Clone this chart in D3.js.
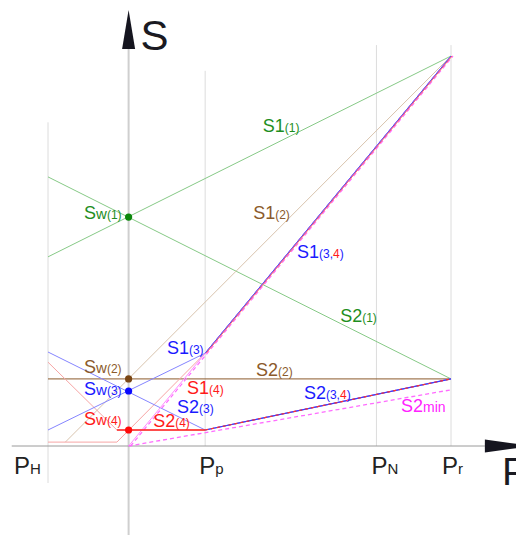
<!DOCTYPE html>
<html>
<head>
<meta charset="utf-8">
<script src="https://cdn.jsdelivr.net/npm/d3@7/dist/d3.min.js"></script>
<style>
body { margin: 0; background: #fff; }
svg { display: block; font-family: "Liberation Sans", Arial, sans-serif; }
</style>
</head>
<body>
<svg id="chart" width="516" height="535"></svg>
<script>
// P positions (0 = P_H, 100 = P_r), S values (0 = P axis, 100 = top point)
var pSubs = ["H", "p", "N", "r"];
var pValues = [0, 39, 81.5, 100];
var gridTop = [83, 96.2, 102.8, 102.8];
var gridBottom = [-9.5, 0, 0, 0];
var sAxisP = 20;

// lines, as [P, S]
var s1_1 = [[0, 48.5], [100, 100]];
var s2_1 = [[0, 69], [100, 17.2]];
var s1_2 = [[4.3, 1], [100, 100]];
var s2_2 = [[0, 17.2], [100, 17.2]];
var s1_3 = [[0, 4.1], [39, 23.8], [100, 100]];
var s2_3 = [[0, 24.1], [39, 4.1], [100, 17.2]];
var s1_4 = [[0, 1], [17.1, 1], [39, 23.8], [100, 100]];
var s2_4 = [[0, 21.5], [17.1, 4.1], [39, 4.1], [100, 17.2]];
var s1_min = [[20, 0], [100, 100]];
var s2_min = [[20, 0], [100, 14.4]];

// working points Sw on the S axis
var swNames = ["(1)", "(2)", "(3)", "(4)"];
var swValues = [58.7, 17.2, 14.1, 4.1];

// line labels: text, sub text, group
var labelMain = ["S1", "S1", "S1", "S2", "S2", "S2", "S2", "S1", "S1", "S2", "S2"];
var labelSub = ["(1)", "(2)", "(3,4)", "(1)", "(2)", "(3,4)", "min", "(3)", "(4)", "(3)", "(4)"];
var labelGroup = ["g", "b", "u", "g", "b", "u", "m", "u", "r", "u", "r"];
var labelAt = [[53.3, 80.5], [50.9, 58.2], [61.8, 48.2], [72.5, 31.8], [51.6, 17.9],
               [63.5, 12.1], [87.6, 8.7], [29.5, 23.6], [34.5, 13.3], [32.0, 8.5], [26.1, 4.9]];

var colors = {
    g: {line: "#86c986", text: "#1e8e1e", dot: "#0b870b"},
    b: {line: "#8b5a2b", text: "#8b5a2b", dot: "#7a4614"},
    u: {line: "#8585ff", text: "#1a1aff", dot: "#0a0aff"},
    r: {line: "#f7a5a5", text: "#ff1a1a", dot: "#ff0a0a"},
    m: {line: "#ff6cff", text: "#ff22ff"}
};
var swGroup = ["g", "b", "u", "r"];

var svg = d3.select("#chart");
var x = d3.scaleLinear().domain([0, 100]).range([48, 451]);
var y = d3.scaleLinear().domain([0, 100]).range([446, 56]);
var line = d3.line().x(d => x(d[0])).y(d => y(d[1]));

function draw(points, stroke, width, dash, dx) {
    svg.append("path")
        .datum(points)
        .attr("d", line)
        .attr("fill", "none")
        .attr("stroke", stroke)
        .attr("stroke-width", width)
        .attr("stroke-dasharray", dash || null)
        .attr("transform", dx ? "translate(" + dx + ",0)" : null);
}

// grid lines
svg.selectAll(".grid")
    .data(pValues)
    .enter().append("line")
    .attr("class", "grid")
    .attr("x1", d => x(d)).attr("x2", d => x(d))
    .attr("y1", (d, i) => y(gridTop[i]))
    .attr("y2", (d, i) => y(gridBottom[i]))
    .attr("stroke", "#dcdcdc")
    .attr("stroke-width", 1);

// axes
svg.append("line")
    .attr("x1", x(sAxisP)).attr("x2", x(sAxisP))
    .attr("y1", y(-23)).attr("y2", y(101.8))
    .attr("stroke", "#cfcfcf").attr("stroke-width", 2);
svg.append("line")
    .attr("x1", x(-9)).attr("x2", x(108.4))
    .attr("y1", y(0)).attr("y2", y(0))
    .attr("stroke", "#9a9a9a").attr("stroke-width", 1);

svg.append("path")
    .attr("d", "M" + x(sAxisP) + "," + y(111.8) + "L" + (x(sAxisP) + 6.5) + "," + y(101.8) +
               "L" + (x(sAxisP) - 6.5) + "," + y(101.8) + "Z")
    .attr("fill", "#15151f");
svg.append("path")
    .attr("d", "M" + x(120) + "," + y(0) + "L" + x(108.4) + "," + (y(0) - 6.5) +
               "L" + x(108.4) + "," + (y(0) + 6.5) + "Z")
    .attr("fill", "#15151f");

svg.append("text")
    .attr("x", x(sAxisP) + 12).attr("y", y(101.5))
    .attr("font-size", 42).attr("fill", "#1a1a22").text("S");
svg.append("text")
    .attr("x", 502).attr("y", y(-10)).attr("font-size", 39)
    .attr("fill", "#1a1a22").text("P");

// tick labels
var tickShift = [-34, -6, -5, -9];
pValues.forEach((v, i) => {
    var t = svg.append("text")
        .attr("x", x(v) + tickShift[i]).attr("y", y(-7.3))
        .attr("fill", "#222").attr("font-size", 24);
    t.append("tspan").text("P");
    t.append("tspan").attr("font-size", 15).text(pSubs[i]);
});

// green, brown
draw(s1_1, colors.g.line, 1);
draw(s2_1, colors.g.line, 1);
draw(s1_2, "#d8c3ad", 1);
draw(s2_2, colors.b.line, 1);

// red (light)
draw(s1_4, colors.r.line, 1);
draw(s2_4, colors.r.line, 1);

// blue
draw(s1_3, colors.u.line, 1);
draw(s2_3, colors.u.line, 1);

// minimum lines
draw(s1_min, "#ff8cff", 1);
draw(s1_min, colors.m.line, 1.2, "4,3", 2);
draw(s2_min, colors.m.line, 1.3, "4,3");

// overlapping parts
draw(s1_3.slice(1), "#4a4aff", 1);
draw(s1_4.slice(2), "#ff6060", 1, null, 1);
draw(s2_3.slice(1), "#3a3aff", 1.2);
draw(s2_4.slice(2), "#ff3030", 1.2, "3,3");
draw(s2_4.slice(1, 3), "#ff2020", 1.6);

// Sw dots and labels
var swOffset = [2, -6, 4, -5];
swValues.forEach((v, i) => {
    var c = colors[swGroup[i]];
    svg.append("circle")
        .attr("cx", x(sAxisP)).attr("cy", y(v)).attr("r", 3.6)
        .attr("fill", c.dot);
    var t = svg.append("text")
        .attr("x", x(sAxisP) - 7).attr("y", y(v) + swOffset[i])
        .attr("text-anchor", "end").attr("fill", c.text).attr("font-size", 18);
    t.append("tspan").text("S");
    t.append("tspan").attr("font-size", 15).text("w");
    t.append("tspan").attr("font-size", 12).text(swNames[i]);
});

// line labels
labelMain.forEach((m, i) => {
    var c = colors[labelGroup[i]];
    var t = svg.append("text")
        .attr("x", x(labelAt[i][0])).attr("y", y(labelAt[i][1]))
        .attr("fill", c.text).attr("font-size", 18);
    t.append("tspan").text(m);
    var sub = labelSub[i];
    if (sub === "(3,4)") {
        t.append("tspan").attr("font-size", 12).text("(3,");
        t.append("tspan").attr("font-size", 12).attr("fill", colors.r.text).text("4");
        t.append("tspan").attr("font-size", 12).text(")");
    } else {
        t.append("tspan").attr("font-size", labelGroup[i] === "m" ? 14 : 12).text(sub);
    }
});
</script>
</body>
</html>
